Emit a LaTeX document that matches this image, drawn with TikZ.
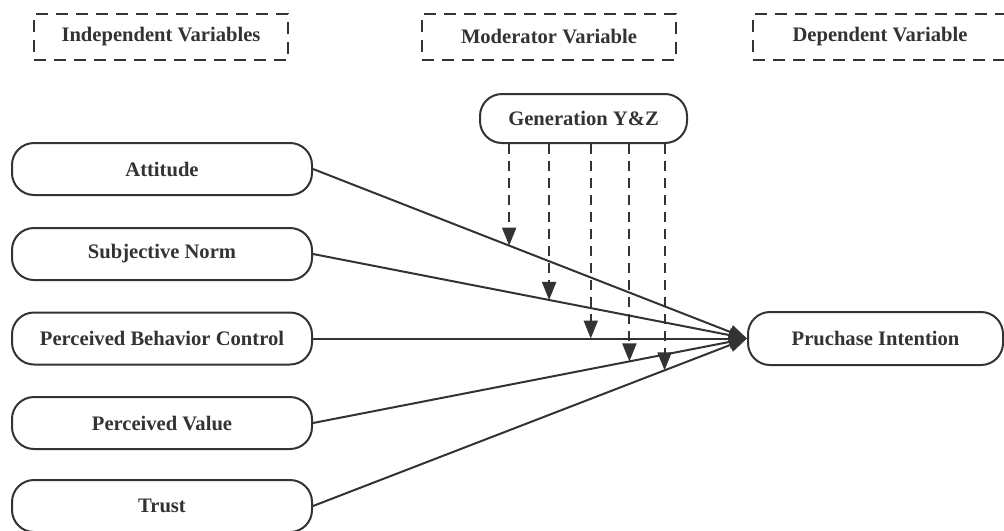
\documentclass[tikz,border=0pt]{standalone}
\usepackage{fontspec}
\setmainfont{Liberation Serif}
\usepackage{xcolor}
\usetikzlibrary{arrows.meta,positioning}
\definecolor{ink}{HTML}{333333}

\tikzset{
  varbox/.style={draw=ink,line width=1pt,rounded corners=11pt,minimum width=150pt,minimum height=26pt,
    inner sep=2pt,text=ink,font=\bfseries\fontsize{10.3}{12}\selectfont},
  headbox/.style={draw=ink,line width=1pt,dash pattern=on 6pt off 4pt,minimum width=127pt,minimum height=23pt,
    inner sep=2pt,text=ink,font=\bfseries\fontsize{10.3}{12}\selectfont},
  link/.style={draw=ink,line width=1pt,-{Triangle[length=9pt,width=7pt]}},
  modlink/.style={link,dash pattern=on 5pt off 3.5pt}
}

\begin{document}
\begin{tikzpicture}[x=0.5pt,y=-0.5pt]
	\useasboundingbox (0,0) rectangle (1004,530);
	% headings
	\node[headbox] (indep) at (161,37) {Independent Variables};
	\node[headbox] (moder) at (549,37) {Moderator Variable};
	\node[headbox] (dep) at (880,37) {Dependent Variable};
	% variables
	\node[varbox] (att) at (162,169) {Attitude};
	\node[varbox] (sn) at (162,254) {Subjective Norm};
	\node[varbox] (pbc) at (162,338.5) {Perceived Behavior Control};
	\node[varbox] (pv) at (162,423) {Perceived Value};
	\node[varbox] (tr) at (162,506) {Trust};
	\node[varbox,minimum width=103.5pt,minimum height=24.5pt] (gen) at (583.5,118.5) {Generation Y\&Z};
	\node[varbox,minimum width=127.5pt,minimum height=26.5pt] (pi) at (875.5,338.5) {Pruchase Intention};
	% paths
	\draw[link] (att.east) -- coordinate[pos=0.452] (m1) (pi.west);
	\draw[link] (sn.east) -- coordinate[pos=0.544] (m2) (pi.west);
	\draw[link] (pbc.east) -- coordinate[pos=0.640] (m3) (pi.west);
	\draw[link] (pv.east) -- coordinate[pos=0.729] (m4) (pi.west);
	\draw[link] (tr.east) -- coordinate[pos=0.810] (m5) (pi.west);
	% moderation
	\draw[modlink] (gen.south -| m1) -- (m1);
	\draw[modlink] (gen.south -| m2) -- (m2);
	\draw[modlink] (gen.south -| m3) -- (m3);
	\draw[modlink] (gen.south -| m4) -- (m4);
	\draw[modlink] (gen.south -| m5) -- (m5);
\end{tikzpicture}
\end{document}
